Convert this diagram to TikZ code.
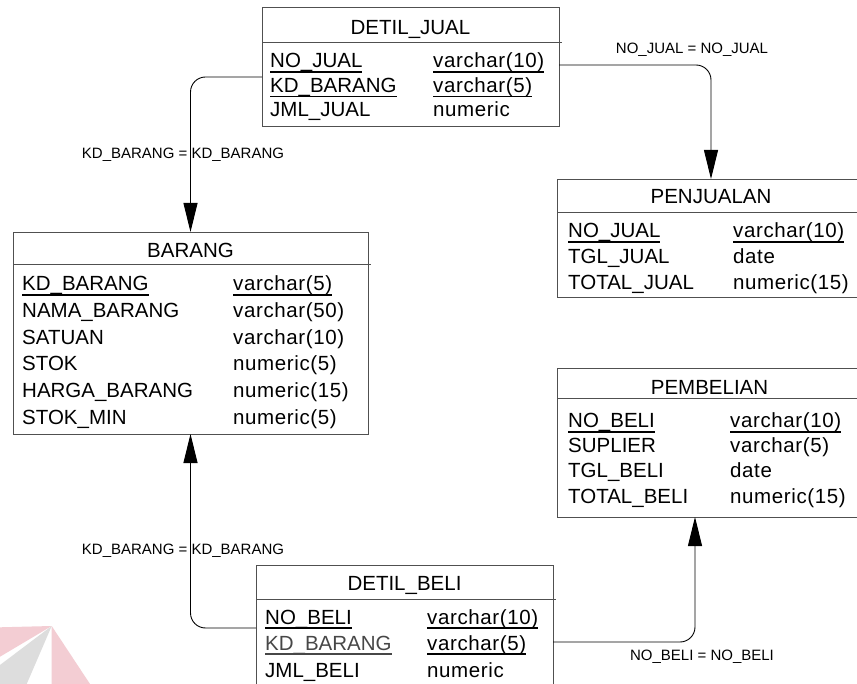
\documentclass[tikz,border=0pt]{standalone}
\usepackage{fontspec}
\setmainfont{Liberation Sans}
\newfontfamily\typefont[LetterSpace=3]{Liberation Sans}
\usetikzlibrary{arrows.meta}
\definecolor{boxgray}{HTML}{505050}
\definecolor{wmpink}{HTML}{F3CDD3}
\definecolor{wmgray}{HTML}{DDDDDD}
% underlined primary-key text
\newsavebox\ulbox
\newcommand\pku[1]{\sbox\ulbox{#1}\rlap{\rule[-4.6pt]{\wd\ulbox}{1.2pt}}\usebox\ulbox}
\tikzset{
  tbl/.style={draw=boxgray, line width=0.9pt, inner sep=0pt, outer sep=0pt, fill=white},
  hdr/.style={draw=boxgray, line width=0.9pt},
  ttl/.style={anchor=base, font=\fontsize{20.5}{24}\selectfont, inner sep=0pt},
  fld/.style={anchor=base west, font=\fontsize{20.5}{24}\selectfont, inner sep=0pt},
  typ/.style={anchor=base west, font=\fontsize{20.5}{24}\typefont, inner sep=0pt},
  rel/.style={draw=black, line width=0.9pt, rounded corners=15pt},
  tip/.style={-{Triangle[length=29pt,width=14pt]}},
  tipb/.style={{Triangle[length=29pt,width=14pt]}-},
  lbl/.style={font=\fontsize{15}{18}\selectfont, inner sep=0pt},
}
\begin{document}
\begin{tikzpicture}[x=1pt, y=-1pt]
\useasboundingbox (0,0) rectangle (857,684);
\clip (0,0) rectangle (857,684);
\fill[white] (0,0) rectangle (857,684);

% faint logo in the lower left corner
\fill[wmpink] (0,627.3) -- (51.7,626) -- (0,656.7) -- cycle;
\fill[wmgray] (51.7,626) -- (0,665) -- (0,684) -- (26.7,684) -- cycle;
\fill[wmpink] (51.7,626) -- (51.7,684) -- (90,684) -- cycle;

% ---- table frames ----
\node[tbl, minimum width=297pt, minimum height=119pt] (detiljual) at (410.5,66.5) {};
\node[tbl, minimum width=355pt, minimum height=202pt] (barang) at (190.5,333) {};
\node[tbl, minimum width=308pt, minimum height=118pt] (penjualan) at (711,238) {};
\node[tbl, minimum width=305pt, minimum height=149pt] (pembelian) at (709.5,442.5) {};
\node[tbl, minimum width=297pt, minimum height=135pt] (detilbeli) at (404.5,632.5) {};

% header separators
\draw[hdr] (detiljual.west |- 0,42) -- ++(300,0);
\draw[hdr] (barang.west |- 0,264) -- ++(358,0);
\draw[hdr] (penjualan.west |- 0,212) -- ++(310,0);
\draw[hdr] (pembelian.west |- 0,398) -- ++(308,0);
\draw[hdr] (detilbeli.west |- 0,599) -- ++(300,0);

% ---- DETIL_JUAL ----
\node[ttl] (dj-t) at (410.5,35) {DETIL\_JUAL};
\node[fld] (dj-1) at (270,68) {\pku{NO\_JUAL}};
\node[typ] (dj-1t) at (433,68) {\pku{varchar(10)}};
\node[fld] (dj-2) at (270,92.5) {\pku{KD\_BARANG}};
\node[typ] (dj-2t) at (433,92.5) {\pku{varchar(5)}};
\node[fld] (dj-3) at (270,117) {JML\_JUAL};
\node[typ] (dj-3t) at (433,117) {numeric};

% ---- BARANG ----
\node[ttl] (b-t) at (190.5,258) {BARANG};
\node[fld] (b-1) at (22,291) {\pku{KD\_BARANG}};
\node[typ] (b-1t) at (233,291) {\pku{varchar(5)}};
\node[fld] (b-2) at (22,318) {NAMA\_BARANG};
\node[typ] (b-2t) at (233,318) {varchar(50)};
\node[fld] (b-3) at (22,344.5) {SATUAN};
\node[typ] (b-3t) at (233,344.5) {varchar(10)};
\node[fld] (b-4) at (22,371) {STOK};
\node[typ] (b-4t) at (233,371) {numeric(5)};
\node[fld] (b-5) at (22,398) {HARGA\_BARANG};
\node[typ] (b-5t) at (233,398) {numeric(15)};
\node[fld] (b-6) at (22,425) {STOK\_MIN};
\node[typ] (b-6t) at (233,425) {numeric(5)};

% ---- PENJUALAN ----
\node[ttl] (pj-t) at (711,204) {PENJUALAN};
\node[fld] (pj-1) at (568,238) {\pku{NO\_JUAL}};
\node[typ] (pj-1t) at (733,238) {\pku{varchar(10)}};
\node[fld] (pj-2) at (568,264) {TGL\_JUAL};
\node[typ] (pj-2t) at (733,264) {date};
\node[fld] (pj-3) at (568,290) {TOTAL\_JUAL};
\node[typ] (pj-3t) at (733,290) {numeric(15)};

% ---- PEMBELIAN ----
\node[ttl] (pb-t) at (709.5,395) {PEMBELIAN};
\node[fld] (pb-1) at (568,428) {\pku{NO\_BELI}};
\node[typ] (pb-1t) at (730,428) {\pku{varchar(10)}};
\node[fld] (pb-2) at (568,453) {SUPLIER};
\node[typ] (pb-2t) at (730,453) {varchar(5)};
\node[fld] (pb-3) at (568,478) {TGL\_BELI};
\node[typ] (pb-3t) at (730,478) {date};
\node[fld] (pb-4) at (568,503) {TOTAL\_BELI};
\node[typ] (pb-4t) at (730,503) {numeric(15)};

% ---- DETIL_BELI ----
\node[ttl] (db-t) at (404.5,590) {DETIL\_BELI};
\node[fld] (db-1) at (265,624) {\pku{NO\_BELI}};
\node[typ] (db-1t) at (427,624) {\pku{varchar(10)}};
\node[fld, text=black!72] (db-2) at (265,650) {\pku{KD\_BARANG}};
\node[typ] (db-2t) at (427,650) {\pku{varchar(5)}};
\node[fld] (db-3) at (265,677) {JML\_BELI};
\node[typ] (db-3t) at (427,677) {numeric};

% ---- references ----
\draw[rel, tip] (detiljual.west |- 0,77) -| (barang.north);
\draw[rel, tip] (detiljual.east |- 0,65) -| (penjualan.north);
\draw[rel, tipb] (barang.south) |- (detilbeli.west |- 0,628);
\draw[rel, tip] (detilbeli.east |- 0,642) -| (pembelian.south -| 695,0);

% reference labels
\node[lbl] (r1) at (183,155) {KD\_BARANG = KD\_BARANG};
\node[lbl] (r2) at (692,50) {NO\_JUAL = NO\_JUAL};
\node[lbl] (r3) at (183,551) {KD\_BARANG = KD\_BARANG};
\node[lbl] (r4) at (702,657) {NO\_BELI = NO\_BELI};
\end{tikzpicture}
\end{document}
